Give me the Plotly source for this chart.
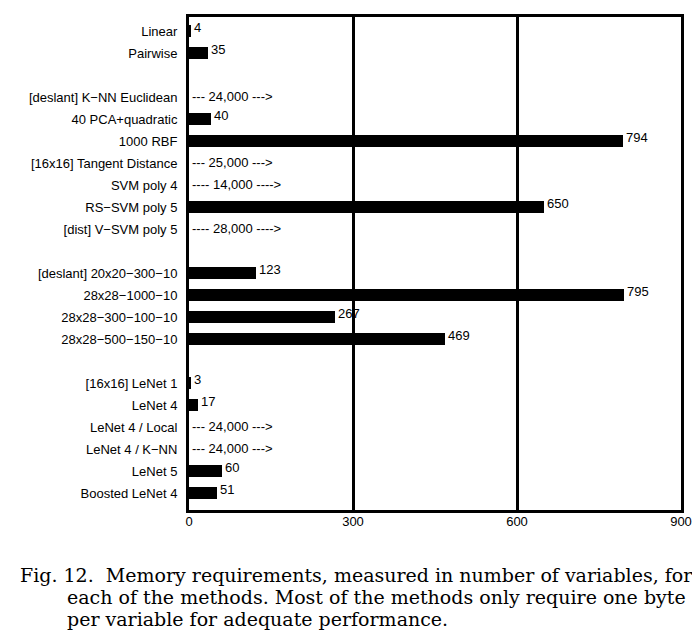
import plotly.graph_objects as go

# Categories top-to-bottom; None marks a blank gap row
categories = [
    "Linear", "Pairwise", None,
    "[deslant] K−NN Euclidean", "40 PCA+quadratic", "1000 RBF",
    "[16x16] Tangent Distance", "SVM poly 4", "RS−SVM poly 5",
    "[dist] V−SVM poly 5", None,
    "[deslant] 20x20−300−10", "28x28−1000−10", "28x28−300−100−10",
    "28x28−500−150−10", None,
    "[16x16] LeNet 1", "LeNet 4", "LeNet 4 / Local", "LeNet 4 / K−NN",
    "LeNet 5", "Boosted LeNet 4",
]
values = [
    4, 35, None,
    24000, 40, 794, 25000, 14000, 650, 28000, None,
    123, 795, 267, 469, None,
    3, 17, 24000, 24000, 60, 51,
]
# Text shown for values beyond the axis range
overflow_text = {
    24000: "--- 24,000 --->",
    25000: "--- 25,000 --->",
    14000: "---- 14,000 ---->",
    28000: "---- 28,000 ---->",
}
x_ticks = [0, 300, 600, 900]
x_max = 900

caption_lines = [
    "Fig. 12.  Memory requirements, measured in number of variables, for",
    "each of the methods. Most of the methods only require one byte",
    "per variable for adequate performance.",
]

# The page body adds an 8px offset; the figure is sized/positioned to compensate.
OFF = 8
W, H = 700 - OFF, 636 - OFF
ML, MT = 189 - OFF, 17 - OFF
MR = W - (681 - OFF)
MB = H - (510 - OFF)
PW, PH = W - ML - MR, H - MT - MB

SANS = "Liberation Sans, Arial, sans-serif"

pos = list(range(len(categories)))
bar_y, bar_x = [], []
for p, v in zip(pos, values):
    if v is not None and v <= x_max:
        bar_y.append(p)
        bar_x.append(v)

fig = go.Figure()
fig.add_trace(go.Bar(
    x=bar_x, y=bar_y, orientation="h", width=0.55,
    marker=dict(color="black", line=dict(width=0)),
    hoverinfo="skip",
))

for p, v in zip(pos, values):
    if v is None:
        continue
    if v <= x_max:
        fig.add_annotation(
            x=v, y=p, xref="x", yref="y", text=str(v), showarrow=False,
            xanchor="left", yanchor="middle", xshift=1, yshift=4,
            font=dict(family=SANS, size=13, color="black"),
        )
    else:
        fig.add_annotation(
            x=0, y=p, xref="x", yref="y", text=overflow_text[v], showarrow=False,
            xanchor="left", yanchor="middle", xshift=1, yshift=1,
            font=dict(family=SANS, size=13, color="black"),
        )

cap_font = dict(family="DejaVu Serif, serif", size=19, color="black")
cap_px_x = [18, 65, 65]
cap_px_y = [575, 597, 619]
for t, cx, cy in zip(caption_lines, cap_px_x, cap_px_y):
    fx, fy = cx - OFF, cy - OFF
    fig.add_annotation(
        x=(fx - ML) / PW, y=(H - MB - fy) / PH, xref="paper", yref="paper",
        text=t, showarrow=False, xanchor="left", yanchor="middle", font=cap_font,
    )

fig.update_layout(
    width=W, height=H,
    margin=dict(l=ML, r=MR, t=MT, b=MB, autoexpand=False),
    paper_bgcolor="white", plot_bgcolor="white",
    showlegend=False,
    bargap=0,
    xaxis=dict(
        range=[0, x_max], tickvals=x_ticks, ticktext=[str(t) for t in x_ticks],
        showgrid=True, gridcolor="black", gridwidth=3,
        showline=True, linecolor="black", linewidth=3, mirror=True,
        zeroline=False, ticks="", ticklabelstandoff=-3, automargin=False,
        tickfont=dict(family=SANS, size=13, color="black"),
        fixedrange=True,
    ),
    yaxis=dict(
        range=[len(categories) - 1 + 0.77, -0.64],
        tickvals=[p for p, c in zip(pos, categories) if c is not None],
        ticktext=[c for c in categories if c is not None],
        showgrid=False, zeroline=False,
        showline=True, linecolor="black", linewidth=3, mirror=True,
        ticks="", ticklabelstandoff=6, automargin=False,
        tickfont=dict(family=SANS, size=13, color="black"),
        fixedrange=True,
    ),
)

fig.write_html("out.html")
